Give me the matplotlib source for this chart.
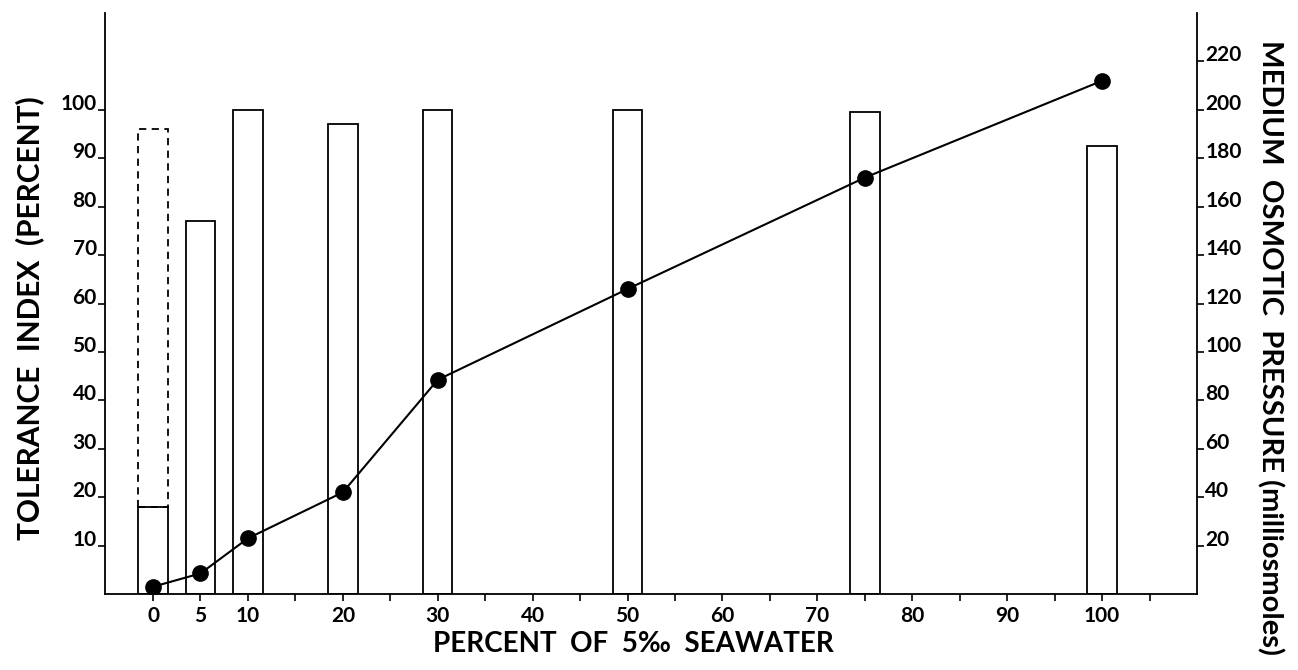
import matplotlib.pyplot as plt

# percent of 5 per mille seawater
seawater = [0, 5, 10, 20, 30, 50, 75, 100]
# tolerance index (percent), bars
tolerance = [18, 77, 100, 97, 100, 100, 99.5, 92.5]
# dashed bar at 0 % seawater (upper value)
dashed_top = 96
# medium osmotic pressure (milliosmoles), line
osmotic = [3, 8.5, 23, 42, 88.5, 126, 172, 212]

xtick_vals = [0, 5, 10, 20, 30, 40, 50, 60, 70, 80, 90, 100]
left_ticks = [10, 20, 30, 40, 50, 60, 70, 80, 90, 100]
right_ticks = [20, 40, 60, 80, 100, 120, 140, 160, 180, 200, 220]

plt.rcParams['font.family'] = ['Lato', 'DejaVu Sans']
plt.rcParams['font.weight'] = 'bold'

W, H = 1298, 670
fig = plt.figure(figsize=(W / 100, H / 100), dpi=100)
ax = fig.add_axes([105 / W, 1 - 594 / H, (1197 - 105) / W, (594 - 13) / H])

ax.bar(seawater, tolerance, width=3.1, facecolor='white', edgecolor='black', linewidth=1.3, zorder=2)
ax.bar([seawater[0]], [dashed_top - tolerance[0]], bottom=[tolerance[0]], width=3.1,
       facecolor='none', edgecolor='black', linewidth=1.3, linestyle=(0, (4, 3)), zorder=2)

ax.set_xlim(-5.06, 110)
ax.set_ylim(0, 120)
ax.spines['top'].set_visible(False)
ax.spines['right'].set_visible(False)
for s in ['left', 'bottom']:
    ax.spines[s].set_linewidth(1.3)

ax.set_xticks(range(0, 110, 5))
ax.set_xticklabels([str(v) if v in xtick_vals else '' for v in range(0, 110, 5)])
ax.set_yticks(left_ticks)
ax.set_yticklabels([str(v) for v in left_ticks])
ax.tick_params(axis='both', direction='out', length=5, width=1.2, labelsize=15)
ax.tick_params(axis='x', pad=4)
ax.tick_params(axis='y', pad=1)
plt.setp(ax.get_yticklabels(), va='baseline')

ax2 = ax.twinx()
ax2.plot(seawater, osmotic, color='black', linewidth=1.5, marker='o', markersize=11, zorder=3)
ax2.set_ylim(0, 240)
ax2.set_yticks(right_ticks)
ax2.set_yticklabels([str(v) for v in right_ticks])
ax2.spines['top'].set_visible(False)
ax2.spines['left'].set_visible(False)
ax2.spines['bottom'].set_visible(False)
ax2.spines['right'].set_linewidth(1.3)
ax2.tick_params(axis='y', direction='out', length=5, width=1.2, labelsize=15, pad=1)
plt.setp(ax2.get_yticklabels(), va='baseline')

fig.text(633 / W, 1 - 644 / H, 'PERCENT  OF  5‰  SEAWATER', fontsize=20,
         ha='center', va='center')
fig.text(30 / W, 1 - 318 / H, 'TOLERANCE  INDEX  (PERCENT)', fontsize=21.5,
         rotation=90, ha='center', va='center')
fig.text(1270 / W, 1 - 347 / H, 'MEDIUM  OSMOTIC  PRESSURE (milliosmoles)', fontsize=21,
         rotation=-90, ha='center', va='center')

fig.savefig('out.png', dpi=100)
